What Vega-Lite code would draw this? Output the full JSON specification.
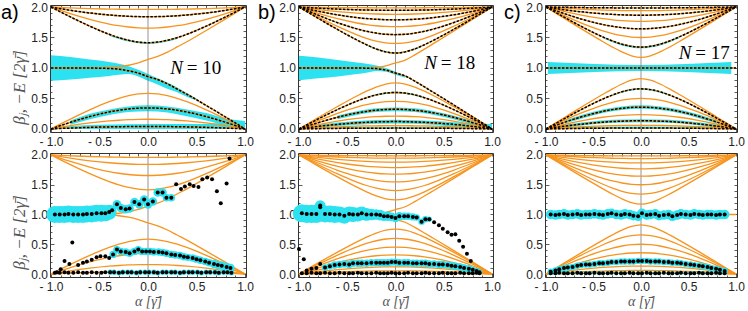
{
"$schema":"https://vega.github.io/schema/vega-lite/v6.json",
"padding":0,
"spacing":0,
"config":{"font":"Liberation Sans","view":{"stroke":"#333","strokeWidth":1},"axis":{"domain":false,"grid":false,"tickColor":"#333","tickWidth":0.8,"labelFont":"Liberation Sans","labelFontSize":12,"labelColor":"#222"}},
"datasets":{
"la":[
{"x":-1,"u1":2,"u2":2,"u3":2,"u4":2,"eu":1,"ed":1,"d4":0,"d3":0,"d2":0,"d1":0},
{"x":-0.9,"u1":1.992,"u2":1.972,"u3":1.944,"u4":1.918,"eu":1,"ed":1,"d4":0.082,"d3":0.056,"d2":0.028,"d1":0.008},
{"x":-0.8,"u1":1.986,"u2":1.946,"u3":1.891,"u4":1.838,"eu":1,"ed":1,"d4":0.162,"d3":0.109,"d2":0.054,"d1":0.014},
{"x":-0.6,"u1":1.974,"u2":1.902,"u3":1.797,"u4":1.686,"eu":1.001,"ed":0.999,"d4":0.314,"d3":0.203,"d2":0.098,"d1":0.026},
{"x":-0.4,"u1":1.966,"u2":1.869,"u3":1.721,"u4":1.552,"eu":1.008,"ed":0.992,"d4":0.448,"d3":0.279,"d2":0.131,"d1":0.034},
{"x":-0.3,"u1":1.963,"u2":1.857,"u3":1.693,"u4":1.497,"eu":1.021,"ed":0.979,"d4":0.503,"d3":0.307,"d2":0.143,"d1":0.037},
{"x":-0.2,"u1":1.961,"u2":1.848,"u3":1.672,"u4":1.454,"eu":1.045,"ed":0.955,"d4":0.546,"d3":0.328,"d2":0.152,"d1":0.039},
{"x":-0.1,"u1":1.96,"u2":1.843,"u3":1.659,"u4":1.425,"eu":1.085,"ed":0.915,"d4":0.575,"d3":0.341,"d2":0.157,"d1":0.04},
{"x":0,"u1":1.96,"u2":1.841,"u3":1.655,"u4":1.415,"eu":1.142,"ed":0.858,"d4":0.585,"d3":0.345,"d2":0.159,"d1":0.041},
{"x":0.1,"u1":1.96,"u2":1.843,"u3":1.659,"u4":1.425,"eu":1.19,"ed":0.81,"d4":0.575,"d3":0.341,"d2":0.157,"d1":0.04},
{"x":0.2,"u1":1.961,"u2":1.848,"u3":1.672,"u4":1.454,"eu":1.26,"ed":0.74,"d4":0.546,"d3":0.328,"d2":0.152,"d1":0.039},
{"x":0.3,"u1":1.963,"u2":1.857,"u3":1.693,"u4":1.497,"eu":1.345,"ed":0.655,"d4":0.503,"d3":0.307,"d2":0.143,"d1":0.037},
{"x":0.4,"u1":1.966,"u2":1.869,"u3":1.721,"u4":1.552,"eu":1.43,"ed":0.57,"d4":0.448,"d3":0.279,"d2":0.131,"d1":0.034},
{"x":0.6,"u1":1.974,"u2":1.902,"u3":1.797,"u4":1.686,"eu":1.615,"ed":0.385,"d4":0.314,"d3":0.203,"d2":0.098,"d1":0.026},
{"x":0.8,"u1":1.986,"u2":1.946,"u3":1.891,"u4":1.838,"eu":1.805,"ed":0.195,"d4":0.162,"d3":0.109,"d2":0.054,"d1":0.014},
{"x":0.9,"u1":1.992,"u2":1.972,"u3":1.944,"u4":1.918,"eu":1.902,"ed":0.098,"d4":0.082,"d3":0.056,"d2":0.028,"d1":0.008},
{"x":1,"u1":2,"u2":2,"u3":2,"u4":2,"eu":2,"ed":0,"d4":0,"d3":0,"d2":0,"d1":0}
],
"lb":[
{"x":-1,"u1":2,"u2":2,"u3":2,"u4":2,"u5":2,"u6":2,"u7":2,"u8":2,"eu":1,"ed":1,"d8":0,"d7":0,"d6":0,"d5":0,"d4":0,"d3":0,"d2":0,"d1":0},
{"x":-0.9,"u1":1.997,"u2":1.99,"u3":1.978,"u4":1.963,"u5":1.947,"u6":1.931,"u7":1.917,"u8":1.906,"eu":1,"ed":1,"d8":0.094,"d7":0.083,"d6":0.069,"d5":0.053,"d4":0.037,"d3":0.022,"d2":0.01,"d1":0.003},
{"x":-0.8,"u1":1.995,"u2":1.981,"u3":1.958,"u4":1.93,"u5":1.897,"u6":1.865,"u7":1.836,"u8":1.813,"eu":1,"ed":1,"d8":0.187,"d7":0.164,"d6":0.135,"d5":0.103,"d4":0.07,"d3":0.042,"d2":0.019,"d1":0.005},
{"x":-0.6,"u1":1.991,"u2":1.966,"u3":1.925,"u4":1.871,"u5":1.808,"u6":1.743,"u7":1.681,"u8":1.631,"eu":1,"ed":1,"d8":0.369,"d7":0.319,"d6":0.257,"d5":0.192,"d4":0.129,"d3":0.075,"d2":0.034,"d1":0.009},
{"x":-0.4,"u1":1.989,"u2":1.955,"u3":1.9,"u4":1.827,"u5":1.738,"u6":1.641,"u7":1.544,"u8":1.459,"eu":1.001,"ed":0.999,"d8":0.541,"d7":0.456,"d6":0.359,"d5":0.262,"d4":0.173,"d3":0.1,"d2":0.045,"d1":0.011},
{"x":-0.3,"u1":1.988,"u2":1.951,"u3":1.891,"u4":1.81,"u5":1.712,"u6":1.602,"u7":1.487,"u8":1.381,"eu":1.003,"ed":0.997,"d8":0.619,"d7":0.513,"d6":0.398,"d5":0.288,"d4":0.19,"d3":0.109,"d2":0.049,"d1":0.012},
{"x":-0.2,"u1":1.987,"u2":1.948,"u3":1.885,"u4":1.799,"u5":1.693,"u6":1.572,"u7":1.441,"u8":1.313,"eu":1.01,"ed":0.99,"d8":0.687,"d7":0.559,"d6":0.428,"d5":0.307,"d4":0.201,"d3":0.115,"d2":0.052,"d1":0.013},
{"x":-0.1,"u1":1.987,"u2":1.946,"u3":1.881,"u4":1.792,"u5":1.681,"u6":1.553,"u7":1.412,"u8":1.264,"eu":1.035,"ed":0.965,"d8":0.736,"d7":0.588,"d6":0.447,"d5":0.319,"d4":0.208,"d3":0.119,"d2":0.054,"d1":0.013},
{"x":0,"u1":1.986,"u2":1.946,"u3":1.879,"u4":1.789,"u5":1.677,"u6":1.547,"u7":1.402,"u8":1.245,"eu":1.083,"ed":0.917,"d8":0.755,"d7":0.598,"d6":0.453,"d5":0.323,"d4":0.211,"d3":0.121,"d2":0.054,"d1":0.014},
{"x":0.1,"u1":1.987,"u2":1.946,"u3":1.881,"u4":1.792,"u5":1.681,"u6":1.553,"u7":1.412,"u8":1.264,"eu":1.13,"ed":0.87,"d8":0.736,"d7":0.588,"d6":0.447,"d5":0.319,"d4":0.208,"d3":0.119,"d2":0.054,"d1":0.013},
{"x":0.2,"u1":1.987,"u2":1.948,"u3":1.885,"u4":1.799,"u5":1.693,"u6":1.572,"u7":1.441,"u8":1.313,"eu":1.216,"ed":0.784,"d8":0.687,"d7":0.559,"d6":0.428,"d5":0.307,"d4":0.201,"d3":0.115,"d2":0.052,"d1":0.013},
{"x":0.3,"u1":1.988,"u2":1.951,"u3":1.891,"u4":1.81,"u5":1.712,"u6":1.602,"u7":1.487,"u8":1.381,"eu":1.31,"ed":0.69,"d8":0.619,"d7":0.513,"d6":0.398,"d5":0.288,"d4":0.19,"d3":0.109,"d2":0.049,"d1":0.012},
{"x":0.4,"u1":1.989,"u2":1.955,"u3":1.9,"u4":1.827,"u5":1.738,"u6":1.641,"u7":1.544,"u8":1.459,"eu":1.407,"ed":0.593,"d8":0.541,"d7":0.456,"d6":0.359,"d5":0.262,"d4":0.173,"d3":0.1,"d2":0.045,"d1":0.011},
{"x":0.6,"u1":1.991,"u2":1.966,"u3":1.925,"u4":1.871,"u5":1.808,"u6":1.743,"u7":1.681,"u8":1.631,"eu":1.602,"ed":0.398,"d8":0.369,"d7":0.319,"d6":0.257,"d5":0.192,"d4":0.129,"d3":0.075,"d2":0.034,"d1":0.009},
{"x":0.8,"u1":1.995,"u2":1.981,"u3":1.958,"u4":1.93,"u5":1.897,"u6":1.865,"u7":1.836,"u8":1.813,"eu":1.801,"ed":0.199,"d8":0.187,"d7":0.164,"d6":0.135,"d5":0.103,"d4":0.07,"d3":0.042,"d2":0.019,"d1":0.005},
{"x":0.9,"u1":1.997,"u2":1.99,"u3":1.978,"u4":1.963,"u5":1.947,"u6":1.931,"u7":1.917,"u8":1.906,"eu":1.9,"ed":0.1,"d8":0.094,"d7":0.083,"d6":0.069,"d5":0.053,"d4":0.037,"d3":0.022,"d2":0.01,"d1":0.003},
{"x":1,"u1":2,"u2":2,"u3":2,"u4":2,"u5":2,"u6":2,"u7":2,"u8":2,"eu":2,"ed":0,"d8":0,"d7":0,"d6":0,"d5":0,"d4":0,"d3":0,"d2":0,"d1":0}
],
"lc":[
{"x":-1,"u1":2,"u2":2,"u3":2,"u4":2,"u5":2,"u6":2,"u7":2,"u8":2,"m":1,"d8":0,"d7":0,"d6":0,"d5":0,"d4":0,"d3":0,"d2":0,"d1":0},
{"x":-0.9,"u1":1.997,"u2":1.989,"u3":1.976,"u4":1.96,"u5":1.943,"u6":1.926,"u7":1.912,"u8":1.903,"m":1,"d8":0.097,"d7":0.088,"d6":0.074,"d5":0.057,"d4":0.04,"d3":0.024,"d2":0.011,"d1":0.003},
{"x":-0.8,"u1":1.995,"u2":1.979,"u3":1.954,"u4":1.923,"u5":1.888,"u6":1.854,"u7":1.826,"u8":1.807,"m":1,"d8":0.193,"d7":0.174,"d6":0.146,"d5":0.112,"d4":0.077,"d3":0.046,"d2":0.021,"d1":0.005},
{"x":-0.6,"u1":1.99,"u2":1.962,"u3":1.917,"u4":1.858,"u5":1.79,"u6":1.721,"u7":1.659,"u8":1.616,"m":1,"d8":0.384,"d7":0.341,"d6":0.279,"d5":0.21,"d4":0.142,"d3":0.083,"d2":0.038,"d1":0.01},
{"x":-0.4,"u1":1.987,"u2":1.95,"u3":1.889,"u4":1.808,"u5":1.712,"u6":1.608,"u7":1.508,"u8":1.431,"m":1,"d8":0.569,"d7":0.492,"d6":0.392,"d5":0.288,"d4":0.192,"d3":0.111,"d2":0.05,"d1":0.013},
{"x":-0.3,"u1":1.986,"u2":1.945,"u3":1.879,"u4":1.79,"u5":1.683,"u6":1.563,"u7":1.443,"u8":1.343,"m":1,"d8":0.657,"d7":0.557,"d6":0.437,"d5":0.317,"d4":0.21,"d3":0.121,"d2":0.055,"d1":0.014},
{"x":-0.2,"u1":1.985,"u2":1.942,"u3":1.872,"u4":1.777,"u5":1.661,"u6":1.529,"u7":1.39,"u8":1.263,"m":1,"d8":0.737,"d7":0.61,"d6":0.471,"d5":0.339,"d4":0.223,"d3":0.128,"d2":0.058,"d1":0.015},
{"x":-0.1,"u1":1.985,"u2":1.94,"u3":1.867,"u4":1.769,"u5":1.647,"u6":1.507,"u7":1.355,"u8":1.2,"m":1,"d8":0.8,"d7":0.645,"d6":0.493,"d5":0.353,"d4":0.231,"d3":0.133,"d2":0.06,"d1":0.015},
{"x":0,"u1":1.985,"u2":1.94,"u3":1.866,"u4":1.766,"u5":1.643,"u6":1.5,"u7":1.342,"u8":1.174,"m":1,"d8":0.826,"d7":0.658,"d6":0.5,"d5":0.357,"d4":0.234,"d3":0.134,"d2":0.06,"d1":0.015},
{"x":0.1,"u1":1.985,"u2":1.94,"u3":1.867,"u4":1.769,"u5":1.647,"u6":1.507,"u7":1.355,"u8":1.2,"m":1,"d8":0.8,"d7":0.645,"d6":0.493,"d5":0.353,"d4":0.231,"d3":0.133,"d2":0.06,"d1":0.015},
{"x":0.2,"u1":1.985,"u2":1.942,"u3":1.872,"u4":1.777,"u5":1.661,"u6":1.529,"u7":1.39,"u8":1.263,"m":1,"d8":0.737,"d7":0.61,"d6":0.471,"d5":0.339,"d4":0.223,"d3":0.128,"d2":0.058,"d1":0.015},
{"x":0.3,"u1":1.986,"u2":1.945,"u3":1.879,"u4":1.79,"u5":1.683,"u6":1.563,"u7":1.443,"u8":1.343,"m":1,"d8":0.657,"d7":0.557,"d6":0.437,"d5":0.317,"d4":0.21,"d3":0.121,"d2":0.055,"d1":0.014},
{"x":0.4,"u1":1.987,"u2":1.95,"u3":1.889,"u4":1.808,"u5":1.712,"u6":1.608,"u7":1.508,"u8":1.431,"m":1,"d8":0.569,"d7":0.492,"d6":0.392,"d5":0.288,"d4":0.192,"d3":0.111,"d2":0.05,"d1":0.013},
{"x":0.6,"u1":1.99,"u2":1.962,"u3":1.917,"u4":1.858,"u5":1.79,"u6":1.721,"u7":1.659,"u8":1.616,"m":1,"d8":0.384,"d7":0.341,"d6":0.279,"d5":0.21,"d4":0.142,"d3":0.083,"d2":0.038,"d1":0.01},
{"x":0.8,"u1":1.995,"u2":1.979,"u3":1.954,"u4":1.923,"u5":1.888,"u6":1.854,"u7":1.826,"u8":1.807,"m":1,"d8":0.193,"d7":0.174,"d6":0.146,"d5":0.112,"d4":0.077,"d3":0.046,"d2":0.021,"d1":0.005},
{"x":0.9,"u1":1.997,"u2":1.989,"u3":1.976,"u4":1.96,"u5":1.943,"u6":1.926,"u7":1.912,"u8":1.903,"m":1,"d8":0.097,"d7":0.088,"d6":0.074,"d5":0.057,"d4":0.04,"d3":0.024,"d2":0.011,"d1":0.003},
{"x":1,"u1":2,"u2":2,"u3":2,"u4":2,"u5":2,"u6":2,"u7":2,"u8":2,"m":1,"d8":0,"d7":0,"d6":0,"d5":0,"d4":0,"d3":0,"d2":0,"d1":0}
],
"bandA":[
{"b":"e","x":-1,"lo":0.79,"hi":1.21},{"b":"e","x":-0.8,"lo":0.81,"hi":1.18},{"b":"e","x":-0.6,"lo":0.84,"hi":1.14},{"b":"e","x":-0.4,"lo":0.87,"hi":1.1},{"b":"e","x":-0.3,"lo":0.89,"hi":1.07},{"b":"e","x":-0.2,"lo":0.9,"hi":1.03},{"b":"e","x":-0.1,"lo":0.86,"hi":0.97},{"b":"e","x":0,"lo":0.79,"hi":0.9},{"b":"e","x":0.1,"lo":0.73,"hi":0.83},{"b":"e","x":0.2,"lo":0.66,"hi":0.76},{"b":"e","x":0.3,"lo":0.6,"hi":0.68},{"b":"e","x":0.4,"lo":0.53,"hi":0.59},{"b":"e","x":0.5,"lo":0.47,"hi":0.5},
{"b":"a4","x":-0.4,"lo":1.53,"hi":1.56},{"b":"a4","x":-0.3,"lo":1.477,"hi":1.507},{"b":"a4","x":-0.2,"lo":1.434,"hi":1.464},{"b":"a4","x":-0.1,"lo":1.405,"hi":1.435},{"b":"a4","x":0,"lo":1.395,"hi":1.425},{"b":"a4","x":0.1,"lo":1.405,"hi":1.435},{"b":"a4","x":0.2,"lo":1.434,"hi":1.464},{"b":"a4","x":0.3,"lo":1.477,"hi":1.507},
{"b":"a3","x":-0.8,"lo":0.07,"hi":0.14},{"b":"a3","x":-0.6,"lo":0.16,"hi":0.25},{"b":"a3","x":-0.4,"lo":0.23,"hi":0.32},{"b":"a3","x":-0.2,"lo":0.28,"hi":0.37},{"b":"a3","x":0,"lo":0.29,"hi":0.39},{"b":"a3","x":0.2,"lo":0.27,"hi":0.37},{"b":"a3","x":0.4,"lo":0.21,"hi":0.32},{"b":"a3","x":0.6,"lo":0.14,"hi":0.26},{"b":"a3","x":0.8,"lo":0.06,"hi":0.17},{"b":"a3","x":1,"lo":0,"hi":0.13},
{"b":"a1","x":-1,"lo":0,"hi":0.02},{"b":"a1","x":-0.8,"lo":0,"hi":0.05},{"b":"a1","x":-0.5,"lo":0,"hi":0.07},{"b":"a1","x":0,"lo":0,"hi":0.08},{"b":"a1","x":0.5,"lo":0,"hi":0.08},{"b":"a1","x":0.8,"lo":0,"hi":0.1},{"b":"a1","x":1,"lo":0,"hi":0.13}
],
"bandB":[
{"b":"e","x":-1,"lo":0.8,"hi":1.2},{"b":"e","x":-0.8,"lo":0.83,"hi":1.17},{"b":"e","x":-0.6,"lo":0.86,"hi":1.13},{"b":"e","x":-0.4,"lo":0.9,"hi":1.09},{"b":"e","x":-0.3,"lo":0.92,"hi":1.07},{"b":"e","x":-0.2,"lo":0.95,"hi":1.04},{"b":"e","x":-0.1,"lo":0.94,"hi":1.0},{"b":"e","x":0,"lo":0.89,"hi":0.94},{"b":"e","x":0.1,"lo":0.84,"hi":0.88},
{"b":"b8","x":-0.3,"lo":1.37,"hi":1.39},{"b":"b8","x":-0.2,"lo":1.3,"hi":1.32},{"b":"b8","x":-0.1,"lo":1.255,"hi":1.275},{"b":"b8","x":0,"lo":1.235,"hi":1.255},{"b":"b8","x":0.1,"lo":1.255,"hi":1.275},{"b":"b8","x":0.2,"lo":1.3,"hi":1.32},{"b":"b8","x":0.3,"lo":1.37,"hi":1.39},
{"b":"b7","x":-0.3,"lo":0.5,"hi":0.525},{"b":"b7","x":-0.2,"lo":0.545,"hi":0.57},{"b":"b7","x":-0.1,"lo":0.575,"hi":0.6},{"b":"b7","x":0,"lo":0.585,"hi":0.61},{"b":"b7","x":0.1,"lo":0.575,"hi":0.6},{"b":"b7","x":0.2,"lo":0.545,"hi":0.57},{"b":"b7","x":0.3,"lo":0.5,"hi":0.525},
{"b":"b5","x":-0.6,"lo":0.16,"hi":0.22},{"b":"b5","x":-0.4,"lo":0.23,"hi":0.29},{"b":"b5","x":-0.2,"lo":0.28,"hi":0.34},{"b":"b5","x":0,"lo":0.29,"hi":0.35},{"b":"b5","x":0.2,"lo":0.28,"hi":0.34},{"b":"b5","x":0.4,"lo":0.23,"hi":0.29},{"b":"b5","x":0.6,"lo":0.16,"hi":0.22},{"b":"b5","x":0.8,"lo":0.07,"hi":0.13},{"b":"b5","x":0.9,"lo":0.03,"hi":0.09},
{"b":"b3","x":-0.8,"lo":0.02,"hi":0.07},{"b":"b3","x":-0.4,"lo":0.07,"hi":0.13},{"b":"b3","x":0,"lo":0.09,"hi":0.15},{"b":"b3","x":0.4,"lo":0.07,"hi":0.13},{"b":"b3","x":0.8,"lo":0,"hi":0.09},{"b":"b3","x":1,"lo":0,"hi":0.08},
{"b":"b1","x":-1,"lo":0,"hi":0.02},{"b":"b1","x":-0.5,"lo":0,"hi":0.03},{"b":"b1","x":0,"lo":0,"hi":0.035},{"b":"b1","x":0.5,"lo":0,"hi":0.035},{"b":"b1","x":1,"lo":0,"hi":0.04}
],
"bandC":[
{"b":"m","x":-0.98,"lo":0.9,"hi":1.1},{"b":"m","x":0,"lo":0.95,"hi":1.05},{"b":"m","x":0.95,"lo":0.9,"hi":1.1},
{"b":"c7u","x":-0.4,"lo":1.488,"hi":1.518},{"b":"c7u","x":-0.2,"lo":1.37,"hi":1.4},{"b":"c7u","x":0,"lo":1.322,"hi":1.352},{"b":"c7u","x":0.2,"lo":1.37,"hi":1.4},{"b":"c7u","x":0.4,"lo":1.488,"hi":1.518},
{"b":"c7d","x":-0.3,"lo":0.54,"hi":0.565},{"b":"c7d","x":-0.2,"lo":0.595,"hi":0.62},{"b":"c7d","x":0,"lo":0.645,"hi":0.67},{"b":"c7d","x":0.2,"lo":0.595,"hi":0.62},{"b":"c7d","x":0.3,"lo":0.54,"hi":0.565},
{"b":"c5","x":-0.8,"lo":0.09,"hi":0.14},{"b":"c5","x":-0.6,"lo":0.18,"hi":0.24},{"b":"c5","x":-0.4,"lo":0.26,"hi":0.32},{"b":"c5","x":-0.2,"lo":0.31,"hi":0.37},{"b":"c5","x":0,"lo":0.33,"hi":0.39},{"b":"c5","x":0.2,"lo":0.31,"hi":0.37},{"b":"c5","x":0.4,"lo":0.26,"hi":0.32},{"b":"c5","x":0.6,"lo":0.18,"hi":0.24},{"b":"c5","x":0.8,"lo":0.09,"hi":0.14},
{"b":"c3","x":-0.9,"lo":0,"hi":0.05},{"b":"c3","x":-0.6,"lo":0.06,"hi":0.11},{"b":"c3","x":-0.3,"lo":0.1,"hi":0.15},{"b":"c3","x":0,"lo":0.11,"hi":0.16},{"b":"c3","x":0.3,"lo":0.1,"hi":0.15},{"b":"c3","x":0.6,"lo":0.06,"hi":0.11},{"b":"c3","x":0.9,"lo":0,"hi":0.05},
{"b":"c1","x":-1,"lo":0,"hi":0.03},{"b":"c1","x":0,"lo":0,"hi":0.04},{"b":"c1","x":1,"lo":0,"hi":0.03}
],
"pa":[
{"x":-0.96,"y":1.0,"e":0.16},{"x":-0.91,"y":1.0,"e":0.16},{"x":-0.86,"y":1.0,"e":0.16},{"x":-0.82,"y":1.01,"e":0.16},{"x":-0.77,"y":1.0,"e":0.16},{"x":-0.72,"y":1.0,"e":0.16},{"x":-0.67,"y":1.0,"e":0.16},{"x":-0.63,"y":1.01,"e":0.16},{"x":-0.58,"y":1.01,"e":0.16},{"x":-0.53,"y":1.02,"e":0.16},{"x":-0.48,"y":1.02,"e":0.16},{"x":-0.44,"y":1.02,"e":0.15},{"x":-0.4,"y":1.04,"e":0.14},
{"x":-0.37,"y":1.07,"e":0.08},{"x":-0.32,"y":1.17,"e":0.08},{"x":-0.28,"y":1.11,"e":0.08},{"x":-0.23,"y":1.09,"e":0.08},{"x":-0.19,"y":1.1,"e":0.08},{"x":-0.14,"y":1.21,"e":0.08},{"x":-0.09,"y":1.17,"e":0.08},{"x":-0.04,"y":1.25,"e":0.08},{"x":0,"y":1.17,"e":0.08},{"x":0.05,"y":1.22,"e":0.08},{"x":0.1,"y":1.37,"e":0.08},{"x":0.15,"y":1.37,"e":0.08},{"x":0.19,"y":1.28,"e":0.07},{"x":0.24,"y":1.28,"e":0.07},
{"x":0.29,"y":1.51,"e":0},{"x":0.34,"y":1.43,"e":0},{"x":0.38,"y":1.47,"e":0},{"x":0.43,"y":1.51,"e":0},{"x":0.47,"y":1.48,"e":0},{"x":0.52,"y":1.46,"e":0},{"x":0.56,"y":1.59,"e":0},{"x":0.61,"y":1.62,"e":0},{"x":0.66,"y":1.59,"e":0},{"x":0.71,"y":1.39,"e":0},{"x":0.75,"y":1.19,"e":0},{"x":0.81,"y":1.52,"e":0},{"x":0.84,"y":1.94,"e":0},
{"x":-0.94,"y":0.03,"e":0},{"x":-0.9,"y":0.08,"e":0},{"x":-0.86,"y":0.22,"e":0},{"x":-0.81,"y":0.17,"e":0},{"x":-0.78,"y":0.53,"e":0},{"x":-0.72,"y":0.15,"e":0},{"x":-0.67,"y":0.19,"e":0},{"x":-0.63,"y":0.21,"e":0},{"x":-0.58,"y":0.24,"e":0},{"x":-0.53,"y":0.28,"e":0},{"x":-0.49,"y":0.3,"e":0},{"x":-0.44,"y":0.3,"e":0},{"x":-0.4,"y":0.27,"e":0},
{"x":-0.36,"y":0.33,"e":0.07},{"x":-0.32,"y":0.41,"e":0.07},{"x":-0.28,"y":0.38,"e":0.07},{"x":-0.23,"y":0.37,"e":0.07},{"x":-0.19,"y":0.35,"e":0.07},{"x":-0.14,"y":0.38,"e":0.07},{"x":-0.1,"y":0.41,"e":0.07},{"x":-0.06,"y":0.38,"e":0.07},{"x":-0.02,"y":0.38,"e":0.07},{"x":0.02,"y":0.38,"e":0.07},{"x":0.06,"y":0.37,"e":0.07},{"x":0.11,"y":0.37,"e":0.07},{"x":0.15,"y":0.36,"e":0.07},{"x":0.19,"y":0.35,"e":0.07},{"x":0.24,"y":0.33,"e":0.07},{"x":0.28,"y":0.32,"e":0.07},{"x":0.33,"y":0.31,"e":0.07},{"x":0.37,"y":0.29,"e":0.07},{"x":0.41,"y":0.28,"e":0.07},{"x":0.46,"y":0.27,"e":0.07},{"x":0.5,"y":0.25,"e":0.07},{"x":0.54,"y":0.23,"e":0.07},{"x":0.59,"y":0.21,"e":0.07},{"x":0.63,"y":0.19,"e":0.07},{"x":0.68,"y":0.17,"e":0.08},{"x":0.72,"y":0.15,"e":0.08},{"x":0.76,"y":0.14,"e":0.08},{"x":0.81,"y":0.12,"e":0.08},{"x":0.85,"y":0.1,"e":0.08},
{"x":-0.96,"y":0.02,"e":0},{"x":-0.91,"y":0.02,"e":0},{"x":-0.86,"y":0.03,"e":0},{"x":-0.82,"y":0.02,"e":0},{"x":-0.77,"y":0.02,"e":0},{"x":-0.72,"y":0.03,"e":0},{"x":-0.67,"y":0.02,"e":0},{"x":-0.63,"y":0.02,"e":0},{"x":-0.58,"y":0.03,"e":0},{"x":-0.53,"y":0.02,"e":0},{"x":-0.48,"y":0.02,"e":0},{"x":-0.44,"y":0.03,"e":0},
{"x":-0.39,"y":0.03,"e":0.05},{"x":-0.35,"y":0.03,"e":0.05},{"x":-0.3,"y":0.02,"e":0.05},{"x":-0.26,"y":0.03,"e":0.05},{"x":-0.21,"y":0.03,"e":0.05},{"x":-0.17,"y":0.03,"e":0.05},{"x":-0.12,"y":0.02,"e":0.05},{"x":-0.08,"y":0.03,"e":0.05},{"x":-0.03,"y":0.03,"e":0.05},{"x":0.01,"y":0.03,"e":0.05},{"x":0.06,"y":0.03,"e":0.05},{"x":0.1,"y":0.02,"e":0.05},{"x":0.15,"y":0.03,"e":0.05},{"x":0.19,"y":0.03,"e":0.05},{"x":0.24,"y":0.03,"e":0.05},{"x":0.28,"y":0.03,"e":0.05},{"x":0.33,"y":0.02,"e":0.05},{"x":0.37,"y":0.03,"e":0.05},{"x":0.42,"y":0.03,"e":0.05},{"x":0.46,"y":0.03,"e":0.05},{"x":0.51,"y":0.03,"e":0.05},{"x":0.55,"y":0.02,"e":0.05},{"x":0.6,"y":0.03,"e":0.05},{"x":0.64,"y":0.03,"e":0.05},{"x":0.69,"y":0.03,"e":0.05},{"x":0.73,"y":0.02,"e":0.05},{"x":0.78,"y":0.03,"e":0.05},{"x":0.82,"y":0.03,"e":0.05},{"x":0.86,"y":0.02,"e":0.05}
],
"pb":[
{"x":-0.97,"y":1.02,"e":0.17},{"x":-0.92,"y":1.01,"e":0.17},{"x":-0.87,"y":1.01,"e":0.17},{"x":-0.82,"y":1.01,"e":0.17},{"x":-0.78,"y":1.15,"e":0.1},{"x":-0.78,"y":1.12,"e":0.1},{"x":-0.73,"y":1.01,"e":0.16},{"x":-0.68,"y":1.01,"e":0.16},{"x":-0.63,"y":1.0,"e":0.16},{"x":-0.58,"y":1.0,"e":0.15},{"x":-0.53,"y":0.98,"e":0.15},{"x":-0.48,"y":1.01,"e":0.14},{"x":-0.44,"y":1.0,"e":0.14},{"x":-0.39,"y":1.0,"e":0.13},{"x":-0.35,"y":1.02,"e":0.13},{"x":-0.3,"y":1.0,"e":0.12},{"x":-0.25,"y":1.0,"e":0.11},{"x":-0.2,"y":1.0,"e":0.1},{"x":-0.16,"y":0.99,"e":0.1},{"x":-0.12,"y":0.97,"e":0.09},{"x":-0.08,"y":0.97,"e":0.09},{"x":-0.04,"y":0.96,"e":0.08},{"x":0,"y":0.94,"e":0.08},{"x":0.04,"y":0.97,"e":0.08},{"x":0.09,"y":0.97,"e":0.07},{"x":0.13,"y":0.97,"e":0.07},{"x":0.18,"y":0.96,"e":0.07},{"x":0.22,"y":0.95,"e":0.06},{"x":0.27,"y":0.88,"e":0.06},{"x":0.31,"y":0.92,"e":0.06},{"x":0.35,"y":0.92,"e":0.05},
{"x":0.4,"y":0.87,"e":0},{"x":0.45,"y":0.82,"e":0},{"x":0.49,"y":0.76,"e":0},{"x":0.54,"y":0.7,"e":0},{"x":0.58,"y":0.66,"e":0},{"x":0.62,"y":0.67,"e":0},{"x":0.66,"y":0.56,"e":0},{"x":0.7,"y":0.46,"e":0},{"x":0.74,"y":0.34,"e":0},{"x":0.78,"y":0.22,"e":0},
{"x":-1.0,"y":0.42,"e":0},{"x":-0.95,"y":0.25,"e":0},{"x":-0.78,"y":0.17,"e":0},
{"x":-0.92,"y":0.06,"e":0},{"x":-0.87,"y":0.09,"e":0},{"x":-0.82,"y":0.1,"e":0},{"x":-0.73,"y":0.11,"e":0.06},{"x":-0.68,"y":0.13,"e":0.06},{"x":-0.63,"y":0.15,"e":0.07},{"x":-0.58,"y":0.16,"e":0.07},{"x":-0.53,"y":0.17,"e":0.07},{"x":-0.48,"y":0.16,"e":0.07},{"x":-0.44,"y":0.18,"e":0.07},{"x":-0.39,"y":0.18,"e":0.07},{"x":-0.35,"y":0.18,"e":0.07},{"x":-0.3,"y":0.18,"e":0.07},{"x":-0.25,"y":0.19,"e":0.07},{"x":-0.2,"y":0.19,"e":0.07},{"x":-0.16,"y":0.19,"e":0.07},{"x":-0.12,"y":0.19,"e":0.07},{"x":-0.08,"y":0.19,"e":0.07},{"x":-0.04,"y":0.2,"e":0.07},{"x":0,"y":0.2,"e":0.07},{"x":0.04,"y":0.19,"e":0.07},{"x":0.09,"y":0.19,"e":0.07},{"x":0.13,"y":0.19,"e":0.07},{"x":0.18,"y":0.18,"e":0.07},{"x":0.22,"y":0.18,"e":0.07},{"x":0.27,"y":0.18,"e":0.07},{"x":0.31,"y":0.18,"e":0.07},{"x":0.35,"y":0.17,"e":0.07},{"x":0.4,"y":0.17,"e":0.07},{"x":0.45,"y":0.16,"e":0.07},{"x":0.49,"y":0.16,"e":0.07},{"x":0.54,"y":0.15,"e":0.07},{"x":0.58,"y":0.14,"e":0.07},{"x":0.62,"y":0.13,"e":0.07},{"x":0.67,"y":0.12,"e":0.07},{"x":0.71,"y":0.1,"e":0.07},{"x":0.76,"y":0.09,"e":0.07},{"x":0.8,"y":0.07,"e":0.06},{"x":0.84,"y":0.05,"e":0.06},{"x":0.87,"y":0.03,"e":0.05},
{"x":-0.97,"y":0.015,"e":0},{"x":-0.92,"y":0.015,"e":0},{"x":-0.87,"y":0.02,"e":0},{"x":-0.82,"y":0.015,"e":0},{"x":-0.78,"y":0.015,"e":0},{"x":-0.73,"y":0.02,"e":0},{"x":-0.68,"y":0.015,"e":0.03},{"x":-0.63,"y":0.015,"e":0.03},{"x":-0.58,"y":0.02,"e":0.03},{"x":-0.53,"y":0.015,"e":0.03},{"x":-0.48,"y":0.015,"e":0.03},{"x":-0.44,"y":0.015,"e":0.03},{"x":-0.39,"y":0.02,"e":0.03},{"x":-0.35,"y":0.015,"e":0.03},{"x":-0.3,"y":0.015,"e":0.03},{"x":-0.25,"y":0.015,"e":0.03},{"x":-0.2,"y":0.02,"e":0.03},{"x":-0.16,"y":0.015,"e":0.03},{"x":-0.12,"y":0.015,"e":0.03},{"x":-0.08,"y":0.015,"e":0.03},{"x":-0.04,"y":0.02,"e":0.03},{"x":0,"y":0.015,"e":0.03},{"x":0.04,"y":0.015,"e":0.03},{"x":0.09,"y":0.015,"e":0.03},{"x":0.13,"y":0.02,"e":0.03},{"x":0.18,"y":0.015,"e":0.03},{"x":0.22,"y":0.015,"e":0.03},{"x":0.27,"y":0.015,"e":0.03},{"x":0.31,"y":0.02,"e":0.03},{"x":0.35,"y":0.015,"e":0.03},{"x":0.4,"y":0.015,"e":0.03},{"x":0.45,"y":0.015,"e":0.03},{"x":0.49,"y":0.02,"e":0.03},{"x":0.54,"y":0.015,"e":0.03},{"x":0.58,"y":0.015,"e":0.03},{"x":0.62,"y":0.015,"e":0.03},{"x":0.67,"y":0.02,"e":0.03},{"x":0.71,"y":0.015,"e":0.03},{"x":0.76,"y":0.015,"e":0.03},{"x":0.8,"y":0.015,"e":0.03},{"x":0.84,"y":0.02,"e":0.03},{"x":0.87,"y":0.015,"e":0.03}
],
"pc":[
{"x":-0.95,"y":1.0,"e":0.09},{"x":-0.9,"y":0.99,"e":0.09},{"x":-0.86,"y":1.0,"e":0.09},{"x":-0.81,"y":1.01,"e":0.09},{"x":-0.77,"y":0.99,"e":0.09},{"x":-0.72,"y":1.0,"e":0.09},{"x":-0.67,"y":1.01,"e":0.09},{"x":-0.63,"y":0.99,"e":0.09},{"x":-0.58,"y":1.0,"e":0.09},{"x":-0.54,"y":1.0,"e":0.09},{"x":-0.49,"y":1.01,"e":0.09},{"x":-0.44,"y":1.0,"e":0.09},{"x":-0.4,"y":0.99,"e":0.09},{"x":-0.35,"y":1.01,"e":0.09},{"x":-0.31,"y":1.02,"e":0.09},{"x":-0.26,"y":1.0,"e":0.09},{"x":-0.21,"y":0.99,"e":0.09},{"x":-0.17,"y":1.01,"e":0.09},{"x":-0.12,"y":1.0,"e":0.09},{"x":-0.08,"y":0.98,"e":0.09},{"x":-0.03,"y":0.97,"e":0.09},{"x":0.01,"y":1.02,"e":0.09},{"x":0.06,"y":0.99,"e":0.09},{"x":0.1,"y":1.0,"e":0.09},{"x":0.15,"y":1.01,"e":0.09},{"x":0.19,"y":0.98,"e":0.09},{"x":0.24,"y":0.99,"e":0.09},{"x":0.29,"y":1.0,"e":0.09},{"x":0.33,"y":0.97,"e":0.09},{"x":0.38,"y":0.99,"e":0.09},{"x":0.42,"y":1.01,"e":0.09},{"x":0.47,"y":1.0,"e":0.09},{"x":0.52,"y":0.99,"e":0.09},{"x":0.56,"y":1.01,"e":0.09},{"x":0.61,"y":1.0,"e":0.09},{"x":0.65,"y":0.99,"e":0.09},{"x":0.7,"y":1.0,"e":0.09},{"x":0.74,"y":1.0,"e":0.09},{"x":0.79,"y":0.99,"e":0.09},{"x":0.83,"y":1.0,"e":0.09},{"x":0.88,"y":1.0,"e":0.09},
{"x":-0.95,"y":0.04,"e":0.06},{"x":-0.9,"y":0.06,"e":0.06},{"x":-0.86,"y":0.08,"e":0.06},{"x":-0.81,"y":0.1,"e":0.06},{"x":-0.77,"y":0.11,"e":0.06},{"x":-0.72,"y":0.12,"e":0.06},{"x":-0.67,"y":0.14,"e":0.06},{"x":-0.63,"y":0.15,"e":0.06},{"x":-0.58,"y":0.16,"e":0.06},{"x":-0.54,"y":0.16,"e":0.06},{"x":-0.49,"y":0.17,"e":0.06},{"x":-0.44,"y":0.18,"e":0.06},{"x":-0.4,"y":0.18,"e":0.06},{"x":-0.35,"y":0.19,"e":0.06},{"x":-0.31,"y":0.2,"e":0.06},{"x":-0.26,"y":0.2,"e":0.06},{"x":-0.21,"y":0.21,"e":0.06},{"x":-0.17,"y":0.21,"e":0.06},{"x":-0.12,"y":0.21,"e":0.06},{"x":-0.08,"y":0.21,"e":0.06},{"x":-0.03,"y":0.22,"e":0.06},{"x":0.01,"y":0.22,"e":0.06},{"x":0.06,"y":0.22,"e":0.06},{"x":0.1,"y":0.21,"e":0.06},{"x":0.15,"y":0.21,"e":0.06},{"x":0.19,"y":0.21,"e":0.06},{"x":0.24,"y":0.2,"e":0.06},{"x":0.29,"y":0.2,"e":0.06},{"x":0.33,"y":0.19,"e":0.06},{"x":0.38,"y":0.19,"e":0.06},{"x":0.42,"y":0.18,"e":0.06},{"x":0.47,"y":0.17,"e":0.06},{"x":0.52,"y":0.16,"e":0.06},{"x":0.56,"y":0.15,"e":0.06},{"x":0.61,"y":0.14,"e":0.06},{"x":0.65,"y":0.13,"e":0.06},{"x":0.7,"y":0.12,"e":0.06},{"x":0.74,"y":0.1,"e":0.06},{"x":0.79,"y":0.09,"e":0.06},{"x":0.83,"y":0.07,"e":0.06},{"x":0.88,"y":0.05,"e":0.06},
{"x":-0.95,"y":0.015,"e":0.04},{"x":-0.9,"y":0.015,"e":0.04},{"x":-0.86,"y":0.02,"e":0.04},{"x":-0.81,"y":0.015,"e":0.04},{"x":-0.77,"y":0.015,"e":0.04},{"x":-0.72,"y":0.015,"e":0.04},{"x":-0.67,"y":0.02,"e":0.04},{"x":-0.63,"y":0.015,"e":0.04},{"x":-0.58,"y":0.015,"e":0.04},{"x":-0.54,"y":0.015,"e":0.04},{"x":-0.49,"y":0.02,"e":0.04},{"x":-0.44,"y":0.015,"e":0.04},{"x":-0.4,"y":0.015,"e":0.04},{"x":-0.35,"y":0.015,"e":0.04},{"x":-0.31,"y":0.02,"e":0.04},{"x":-0.26,"y":0.015,"e":0.04},{"x":-0.21,"y":0.015,"e":0.04},{"x":-0.17,"y":0.015,"e":0.04},{"x":-0.12,"y":0.02,"e":0.04},{"x":-0.08,"y":0.015,"e":0.04},{"x":-0.03,"y":0.015,"e":0.04},{"x":0.01,"y":0.015,"e":0.04},{"x":0.06,"y":0.02,"e":0.04},{"x":0.1,"y":0.015,"e":0.04},{"x":0.15,"y":0.015,"e":0.04},{"x":0.19,"y":0.015,"e":0.04},{"x":0.24,"y":0.02,"e":0.04},{"x":0.29,"y":0.015,"e":0.04},{"x":0.33,"y":0.015,"e":0.04},{"x":0.38,"y":0.015,"e":0.04},{"x":0.42,"y":0.02,"e":0.04},{"x":0.47,"y":0.015,"e":0.04},{"x":0.52,"y":0.015,"e":0.04},{"x":0.56,"y":0.015,"e":0.04},{"x":0.61,"y":0.02,"e":0.04},{"x":0.65,"y":0.015,"e":0.04},{"x":0.7,"y":0.015,"e":0.04},{"x":0.74,"y":0.015,"e":0.04},{"x":0.79,"y":0.02,"e":0.04},{"x":0.83,"y":0.015,"e":0.04},{"x":0.88,"y":0.015,"e":0.04}
]
},
"vconcat":[
{"hconcat":[
{"width":196,"height":127,"resolve":{"axis":{"x":"independent","y":"independent"}},"layer":[
{"data":{"name":"bandA"},"mark":{"type":"area","color":"#2CE2F0","interpolate":"monotone"},"encoding":{
"x":{"field":"x","type":"quantitative","scale":{"domain":[-1.01,1.01],"nice":false,"zero":false},"axis":{"orient":"bottom","values":[-1,-0.5,0,0.5,1],"tickSize":-4,"labelPadding":8.5,"labelExpr":"datum.value < 0 ? '- ' + format(-datum.value, '.1f') : format(datum.value, '.1f')","labelFlush":false,"labelOverlap":false,"title":null}},
"y":{"field":"lo","type":"quantitative","scale":{"domain":[-0.05,2.033],"nice":false,"zero":false},"axis":{"orient":"left","values":[0,0.5,1,1.5,2],"tickSize":-4,"labelPadding":6.5,"labelExpr":"format(datum.value, '.1f')","labelFlush":false,"labelOverlap":false,"title":"βⱼ, −E [2γ̄]","titleFont":"Liberation Serif","titleFontStyle":"italic","titleFontSize":17,"titleFontWeight":"normal","titleColor":"#555","titleX":-22,"titleY":82,"titleBaseline":"bottom"}},
"y2":{"field":"hi"},"detail":{"field":"b"}}},
{"data":{"values":[{}]},"mark":{"type":"rule","color":"#666","strokeWidth":0.7},"encoding":{"x":{"datum":0,"scale":{"domain":[-1.01,1.01],"nice":false,"zero":false},"axis":{"orient":"bottom","values":[-0.9,-0.8,-0.7,-0.6,-0.4,-0.3,-0.2,-0.1,0.1,0.2,0.3,0.4,0.6,0.7,0.8,0.9],"tickSize":-2,"labels":false,"title":null}}}},
{"data":{"name":"la"},"transform":[{"fold":["u1","u2","u3","u4","eu","ed","d4","d3","d2","d1"],"as":["k","v"]}],"mark":{"type":"line","color":"#F7941D","strokeWidth":1.3,"interpolate":"monotone"},"encoding":{
"x":{"field":"x","type":"quantitative","scale":{"domain":[-1.01,1.01],"nice":false,"zero":false},"axis":{"orient":"top","values":[-1,-0.9,-0.8,-0.7,-0.6,-0.5,-0.4,-0.3,-0.2,-0.1,0,0.1,0.2,0.3,0.4,0.5,0.6,0.7,0.8,0.9,1],"tickSize":-3,"labels":false,"title":null}},
"y":{"field":"v","type":"quantitative","scale":{"domain":[-0.05,2.033],"nice":false,"zero":false},"axis":{"orient":"right","values":[0,0.1,0.2,0.3,0.4,0.5,0.6,0.7,0.8,0.9,1,1.1,1.2,1.3,1.4,1.5,1.6,1.7,1.8,1.9,2],"tickSize":-3,"labels":false,"title":null}},
"detail":{"field":"k"}}},
{"data":{"name":"la"},"transform":[{"fold":["u1","u2","u3","u4","eu","ed","d4","d3","d2","d1"],"as":["k","v"]},{"filter":{"field":"k","oneOf":["u2","u4","ed","d3","d1"]}}],"mark":{"type":"line","color":"#000","strokeWidth":1.5,"strokeDash":[2.5,1.5],"interpolate":"monotone"},"encoding":{
"x":{"field":"x","type":"quantitative","scale":{"domain":[-1.01,1.01],"nice":false,"zero":false},"axis":null},
"y":{"field":"v","type":"quantitative","scale":{"domain":[-0.05,2.033],"nice":false,"zero":false},"axis":{"orient":"left","values":[0.1,0.2,0.3,0.4,0.6,0.7,0.8,0.9,1.1,1.2,1.3,1.4,1.6,1.7,1.8,1.9],"tickSize":-2,"labels":false,"title":null}},
"detail":{"field":"k"}}},
{"data":{"values":[{}]},"mark":{"type":"text","text":"N","font":"Liberation Serif","fontStyle":"italic","fontSize":19,"align":"right","baseline":"middle"},"encoding":{"x":{"datum":0.36,"axis":null},"y":{"datum":1.0,"axis":null}}},
{"data":{"values":[{}]},"mark":{"type":"text","text":"= 10","font":"Liberation Serif","fontSize":19,"align":"left","baseline":"middle"},"encoding":{"x":{"datum":0.4,"axis":null},"y":{"datum":1.0,"axis":null}}},
{"data":{"values":[{}]},"mark":{"type":"text","text":"a)","font":"Liberation Sans","fontSize":20,"align":"left","baseline":"top","dx":-49,"dy":-2},"encoding":{"x":{"datum":-1.01,"axis":null},"y":{"datum":2.033,"axis":null}}}
]},
{"width":195,"height":127,"resolve":{"axis":{"x":"independent","y":"independent"}},"layer":[
{"data":{"name":"bandB"},"mark":{"type":"area","color":"#2CE2F0","interpolate":"monotone"},"encoding":{
"x":{"field":"x","type":"quantitative","scale":{"domain":[-1.01,1.01],"nice":false,"zero":false},"axis":{"orient":"bottom","values":[-1,-0.5,0,0.5,1],"tickSize":-4,"labelPadding":8.5,"labelExpr":"datum.value < 0 ? '- ' + format(-datum.value, '.1f') : format(datum.value, '.1f')","labelFlush":false,"labelOverlap":false,"title":null}},
"y":{"field":"lo","type":"quantitative","scale":{"domain":[-0.05,2.033],"nice":false,"zero":false},"axis":{"orient":"left","values":[0,0.5,1,1.5,2],"tickSize":-4,"labelPadding":6.5,"labelExpr":"format(datum.value, '.1f')","labelFlush":false,"labelOverlap":false,"title":null}},
"y2":{"field":"hi"},"detail":{"field":"b"}}},
{"data":{"values":[{}]},"mark":{"type":"rule","color":"#666","strokeWidth":0.7},"encoding":{"x":{"datum":0,"scale":{"domain":[-1.01,1.01],"nice":false,"zero":false},"axis":{"orient":"bottom","values":[-0.9,-0.8,-0.7,-0.6,-0.4,-0.3,-0.2,-0.1,0.1,0.2,0.3,0.4,0.6,0.7,0.8,0.9],"tickSize":-2,"labels":false,"title":null}}}},
{"data":{"name":"lb"},"transform":[{"fold":["u1","u2","u3","u4","u5","u6","u7","u8","eu","ed","d8","d7","d6","d5","d4","d3","d2","d1"],"as":["k","v"]}],"mark":{"type":"line","color":"#F7941D","strokeWidth":1.3,"interpolate":"monotone"},"encoding":{
"x":{"field":"x","type":"quantitative","scale":{"domain":[-1.01,1.01],"nice":false,"zero":false},"axis":{"orient":"top","values":[-1,-0.9,-0.8,-0.7,-0.6,-0.5,-0.4,-0.3,-0.2,-0.1,0,0.1,0.2,0.3,0.4,0.5,0.6,0.7,0.8,0.9,1],"tickSize":-3,"labels":false,"title":null}},
"y":{"field":"v","type":"quantitative","scale":{"domain":[-0.05,2.033],"nice":false,"zero":false},"axis":{"orient":"right","values":[0,0.1,0.2,0.3,0.4,0.5,0.6,0.7,0.8,0.9,1,1.1,1.2,1.3,1.4,1.5,1.6,1.7,1.8,1.9,2],"tickSize":-3,"labels":false,"title":null}},
"detail":{"field":"k"}}},
{"data":{"name":"lb"},"transform":[{"fold":["u1","u2","u3","u4","u5","u6","u7","u8","eu","ed","d8","d7","d6","d5","d4","d3","d2","d1"],"as":["k","v"]},{"filter":{"field":"k","oneOf":["u2","u4","u6","u8","ed","d7","d5","d3","d1"]}}],"mark":{"type":"line","color":"#000","strokeWidth":1.5,"strokeDash":[2.5,1.5],"interpolate":"monotone"},"encoding":{
"x":{"field":"x","type":"quantitative","scale":{"domain":[-1.01,1.01],"nice":false,"zero":false},"axis":null},
"y":{"field":"v","type":"quantitative","scale":{"domain":[-0.05,2.033],"nice":false,"zero":false},"axis":{"orient":"left","values":[0.1,0.2,0.3,0.4,0.6,0.7,0.8,0.9,1.1,1.2,1.3,1.4,1.6,1.7,1.8,1.9],"tickSize":-2,"labels":false,"title":null}},
"detail":{"field":"k"}}},
{"data":{"values":[{}]},"mark":{"type":"text","text":"N","font":"Liberation Serif","fontStyle":"italic","fontSize":19,"align":"right","baseline":"middle"},"encoding":{"x":{"datum":0.43,"axis":null},"y":{"datum":1.08,"axis":null}}},
{"data":{"values":[{}]},"mark":{"type":"text","text":"= 18","font":"Liberation Serif","fontSize":19,"align":"left","baseline":"middle"},"encoding":{"x":{"datum":0.47,"axis":null},"y":{"datum":1.08,"axis":null}}},
{"data":{"values":[{}]},"mark":{"type":"text","text":"b)","font":"Liberation Sans","fontSize":20,"align":"left","baseline":"top","dx":-40,"dy":-2},"encoding":{"x":{"datum":-1.01,"axis":null},"y":{"datum":2.033,"axis":null}}}
]},
{"width":192,"height":127,"resolve":{"axis":{"x":"independent","y":"independent"}},"layer":[
{"data":{"name":"bandC"},"mark":{"type":"area","color":"#2CE2F0","interpolate":"monotone"},"encoding":{
"x":{"field":"x","type":"quantitative","scale":{"domain":[-1.01,1.01],"nice":false,"zero":false},"axis":{"orient":"bottom","values":[-1,-0.5,0,0.5,1],"tickSize":-4,"labelPadding":8.5,"labelExpr":"datum.value < 0 ? '- ' + format(-datum.value, '.1f') : format(datum.value, '.1f')","labelFlush":false,"labelOverlap":false,"title":null}},
"y":{"field":"lo","type":"quantitative","scale":{"domain":[-0.05,2.033],"nice":false,"zero":false},"axis":{"orient":"left","values":[0,0.5,1,1.5,2],"tickSize":-4,"labelPadding":6.5,"labelExpr":"format(datum.value, '.1f')","labelFlush":false,"labelOverlap":false,"title":null}},
"y2":{"field":"hi"},"detail":{"field":"b"}}},
{"data":{"values":[{}]},"mark":{"type":"rule","color":"#666","strokeWidth":0.7},"encoding":{"x":{"datum":0,"scale":{"domain":[-1.01,1.01],"nice":false,"zero":false},"axis":{"orient":"bottom","values":[-0.9,-0.8,-0.7,-0.6,-0.4,-0.3,-0.2,-0.1,0.1,0.2,0.3,0.4,0.6,0.7,0.8,0.9],"tickSize":-2,"labels":false,"title":null}}}},
{"data":{"name":"lc"},"transform":[{"fold":["u1","u2","u3","u4","u5","u6","u7","u8","m","d8","d7","d6","d5","d4","d3","d2","d1"],"as":["k","v"]}],"mark":{"type":"line","color":"#F7941D","strokeWidth":1.3,"interpolate":"monotone"},"encoding":{
"x":{"field":"x","type":"quantitative","scale":{"domain":[-1.01,1.01],"nice":false,"zero":false},"axis":{"orient":"top","values":[-1,-0.9,-0.8,-0.7,-0.6,-0.5,-0.4,-0.3,-0.2,-0.1,0,0.1,0.2,0.3,0.4,0.5,0.6,0.7,0.8,0.9,1],"tickSize":-3,"labels":false,"title":null}},
"y":{"field":"v","type":"quantitative","scale":{"domain":[-0.05,2.033],"nice":false,"zero":false},"axis":{"orient":"right","values":[0,0.1,0.2,0.3,0.4,0.5,0.6,0.7,0.8,0.9,1,1.1,1.2,1.3,1.4,1.5,1.6,1.7,1.8,1.9,2],"tickSize":-3,"labels":false,"title":null}},
"detail":{"field":"k"}}},
{"data":{"name":"lc"},"transform":[{"fold":["u1","u2","u3","u4","u5","u6","u7","u8","m","d8","d7","d6","d5","d4","d3","d2","d1"],"as":["k","v"]},{"filter":{"field":"k","oneOf":["u1","u3","u5","u7","m","d7","d5","d3","d1"]}}],"mark":{"type":"line","color":"#000","strokeWidth":1.5,"strokeDash":[2.5,1.5],"interpolate":"monotone"},"encoding":{
"x":{"field":"x","type":"quantitative","scale":{"domain":[-1.01,1.01],"nice":false,"zero":false},"axis":null},
"y":{"field":"v","type":"quantitative","scale":{"domain":[-0.05,2.033],"nice":false,"zero":false},"axis":{"orient":"left","values":[0.1,0.2,0.3,0.4,0.6,0.7,0.8,0.9,1.1,1.2,1.3,1.4,1.6,1.7,1.8,1.9],"tickSize":-2,"labels":false,"title":null}},
"detail":{"field":"k"}}},
{"data":{"values":[{}]},"mark":{"type":"text","text":"N","font":"Liberation Serif","fontStyle":"italic","fontSize":19,"align":"right","baseline":"middle"},"encoding":{"x":{"datum":0.53,"axis":null},"y":{"datum":1.24,"axis":null}}},
{"data":{"values":[{}]},"mark":{"type":"text","text":"= 17","font":"Liberation Serif","fontSize":19,"align":"left","baseline":"middle"},"encoding":{"x":{"datum":0.57,"axis":null},"y":{"datum":1.24,"axis":null}}},
{"data":{"values":[{}]},"mark":{"type":"text","text":"c)","font":"Liberation Sans","fontSize":20,"align":"left","baseline":"top","dx":-41,"dy":-2},"encoding":{"x":{"datum":-1.01,"axis":null},"y":{"datum":2.033,"axis":null}}}
]}
],"spacing":52,"bounds":"flush"},
{"hconcat":[
{"width":196,"height":124,"resolve":{"axis":{"x":"independent","y":"independent"}},"layer":[
{"data":{"values":[{}]},"mark":{"type":"rule","color":"#666","strokeWidth":0.7},"encoding":{"x":{"datum":0,"scale":{"domain":[-1.01,1.01],"nice":false,"zero":false},"axis":{"orient":"bottom","values":[-0.9,-0.8,-0.7,-0.6,-0.4,-0.3,-0.2,-0.1,0.1,0.2,0.3,0.4,0.6,0.7,0.8,0.9],"tickSize":-2,"labels":false,"title":null}}}},
{"data":{"name":"la"},"transform":[{"fold":["u1","u2","u3","u4","eu","ed","d4","d3","d2","d1"],"as":["k","v"]}],"mark":{"type":"line","color":"#F7941D","strokeWidth":1.3,"interpolate":"monotone"},"encoding":{
"x":{"field":"x","type":"quantitative","scale":{"domain":[-1.01,1.01],"nice":false,"zero":false},"axis":{"orient":"bottom","values":[-1,-0.5,0,0.5,1],"tickSize":-4,"labelPadding":8.5,"labelExpr":"datum.value < 0 ? '- ' + format(-datum.value, '.1f') : format(datum.value, '.1f')","labelFlush":false,"labelOverlap":false,"title":"α [γ̄]","titleFont":"Liberation Serif","titleFontStyle":"italic","titleFontSize":14,"titleFontWeight":"normal","titleColor":"#555","titleY":24,"titleBaseline":"middle"}},
"y":{"field":"v","type":"quantitative","scale":{"domain":[-0.05,2.033],"nice":false,"zero":false},"axis":{"orient":"left","values":[0,0.5,1,1.5,2],"tickSize":-4,"labelPadding":6.5,"labelExpr":"format(datum.value, '.1f')","labelFlush":false,"labelOverlap":false,"title":"βⱼ, −E [2γ̄]","titleFont":"Liberation Serif","titleFontStyle":"italic","titleFontSize":17,"titleFontWeight":"normal","titleColor":"#555","titleX":-22,"titleY":79,"titleBaseline":"bottom"}},
"detail":{"field":"k"}}},
{"data":{"name":"pa"},"transform":[{"filter":"datum.e > 0"}],"mark":{"type":"circle","color":"#2CE2F0","opacity":1},"encoding":{
"x":{"field":"x","type":"quantitative","scale":{"domain":[-1.01,1.01],"nice":false,"zero":false},"axis":{"orient":"top","values":[-1,-0.9,-0.8,-0.7,-0.6,-0.5,-0.4,-0.3,-0.2,-0.1,0,0.1,0.2,0.3,0.4,0.5,0.6,0.7,0.8,0.9,1],"tickSize":-3,"labels":false,"title":null}},
"y":{"field":"y","type":"quantitative","scale":{"domain":[-0.05,2.033],"nice":false,"zero":false},"axis":{"orient":"right","values":[0,0.1,0.2,0.3,0.4,0.5,0.6,0.7,0.8,0.9,1,1.1,1.2,1.3,1.4,1.5,1.6,1.7,1.8,1.9,2],"tickSize":-3,"labels":false,"title":null}},
"size":{"field":"e","type":"quantitative","scale":{"type":"pow","exponent":2,"domain":[0,0.2],"range":[0,452]},"legend":null}}},
{"data":{"name":"pa"},"mark":{"type":"circle","color":"#000","opacity":1,"size":16},"encoding":{
"x":{"field":"x","type":"quantitative","scale":{"domain":[-1.01,1.01],"nice":false,"zero":false},"axis":null},
"y":{"field":"y","type":"quantitative","scale":{"domain":[-0.05,2.033],"nice":false,"zero":false},"axis":{"orient":"left","values":[0.1,0.2,0.3,0.4,0.6,0.7,0.8,0.9,1.1,1.2,1.3,1.4,1.6,1.7,1.8,1.9],"tickSize":-2,"labels":false,"title":null}}}}
]},
{"width":195,"height":124,"resolve":{"axis":{"x":"independent","y":"independent"}},"layer":[
{"data":{"values":[{}]},"mark":{"type":"rule","color":"#666","strokeWidth":0.7},"encoding":{"x":{"datum":0,"scale":{"domain":[-1.01,1.01],"nice":false,"zero":false},"axis":{"orient":"bottom","values":[-0.9,-0.8,-0.7,-0.6,-0.4,-0.3,-0.2,-0.1,0.1,0.2,0.3,0.4,0.6,0.7,0.8,0.9],"tickSize":-2,"labels":false,"title":null}}}},
{"data":{"name":"lb"},"transform":[{"fold":["u1","u2","u3","u4","u5","u6","u7","u8","eu","ed","d8","d7","d6","d5","d4","d3","d2","d1"],"as":["k","v"]}],"mark":{"type":"line","color":"#F7941D","strokeWidth":1.3,"interpolate":"monotone"},"encoding":{
"x":{"field":"x","type":"quantitative","scale":{"domain":[-1.01,1.01],"nice":false,"zero":false},"axis":{"orient":"bottom","values":[-1,-0.5,0,0.5,1],"tickSize":-4,"labelPadding":8.5,"labelExpr":"datum.value < 0 ? '- ' + format(-datum.value, '.1f') : format(datum.value, '.1f')","labelFlush":false,"labelOverlap":false,"title":"α [γ̄]","titleFont":"Liberation Serif","titleFontStyle":"italic","titleFontSize":14,"titleFontWeight":"normal","titleColor":"#555","titleY":24,"titleBaseline":"middle"}},
"y":{"field":"v","type":"quantitative","scale":{"domain":[-0.05,2.033],"nice":false,"zero":false},"axis":{"orient":"left","values":[0,0.5,1,1.5,2],"tickSize":-4,"labelPadding":6.5,"labelExpr":"format(datum.value, '.1f')","labelFlush":false,"labelOverlap":false,"title":null}},
"detail":{"field":"k"}}},
{"data":{"name":"pb"},"transform":[{"filter":"datum.e > 0"}],"mark":{"type":"circle","color":"#2CE2F0","opacity":1},"encoding":{
"x":{"field":"x","type":"quantitative","scale":{"domain":[-1.01,1.01],"nice":false,"zero":false},"axis":{"orient":"top","values":[-1,-0.9,-0.8,-0.7,-0.6,-0.5,-0.4,-0.3,-0.2,-0.1,0,0.1,0.2,0.3,0.4,0.5,0.6,0.7,0.8,0.9,1],"tickSize":-3,"labels":false,"title":null}},
"y":{"field":"y","type":"quantitative","scale":{"domain":[-0.05,2.033],"nice":false,"zero":false},"axis":{"orient":"right","values":[0,0.1,0.2,0.3,0.4,0.5,0.6,0.7,0.8,0.9,1,1.1,1.2,1.3,1.4,1.5,1.6,1.7,1.8,1.9,2],"tickSize":-3,"labels":false,"title":null}},
"size":{"field":"e","type":"quantitative","scale":{"type":"pow","exponent":2,"domain":[0,0.2],"range":[0,452]},"legend":null}}},
{"data":{"name":"pb"},"mark":{"type":"circle","color":"#000","opacity":1,"size":16},"encoding":{
"x":{"field":"x","type":"quantitative","scale":{"domain":[-1.01,1.01],"nice":false,"zero":false},"axis":null},
"y":{"field":"y","type":"quantitative","scale":{"domain":[-0.05,2.033],"nice":false,"zero":false},"axis":{"orient":"left","values":[0.1,0.2,0.3,0.4,0.6,0.7,0.8,0.9,1.1,1.2,1.3,1.4,1.6,1.7,1.8,1.9],"tickSize":-2,"labels":false,"title":null}}}}
]},
{"width":192,"height":124,"resolve":{"axis":{"x":"independent","y":"independent"}},"layer":[
{"data":{"values":[{}]},"mark":{"type":"rule","color":"#666","strokeWidth":0.7},"encoding":{"x":{"datum":0,"scale":{"domain":[-1.01,1.01],"nice":false,"zero":false},"axis":{"orient":"bottom","values":[-0.9,-0.8,-0.7,-0.6,-0.4,-0.3,-0.2,-0.1,0.1,0.2,0.3,0.4,0.6,0.7,0.8,0.9],"tickSize":-2,"labels":false,"title":null}}}},
{"data":{"name":"lc"},"transform":[{"fold":["u1","u2","u3","u4","u5","u6","u7","u8","m","d8","d7","d6","d5","d4","d3","d2","d1"],"as":["k","v"]}],"mark":{"type":"line","color":"#F7941D","strokeWidth":1.3,"interpolate":"monotone"},"encoding":{
"x":{"field":"x","type":"quantitative","scale":{"domain":[-1.01,1.01],"nice":false,"zero":false},"axis":{"orient":"bottom","values":[-1,-0.5,0,0.5,1],"tickSize":-4,"labelPadding":8.5,"labelExpr":"datum.value < 0 ? '- ' + format(-datum.value, '.1f') : format(datum.value, '.1f')","labelFlush":false,"labelOverlap":false,"title":"α [γ̄]","titleFont":"Liberation Serif","titleFontStyle":"italic","titleFontSize":14,"titleFontWeight":"normal","titleColor":"#555","titleY":24,"titleBaseline":"middle"}},
"y":{"field":"v","type":"quantitative","scale":{"domain":[-0.05,2.033],"nice":false,"zero":false},"axis":{"orient":"left","values":[0,0.5,1,1.5,2],"tickSize":-4,"labelPadding":6.5,"labelExpr":"format(datum.value, '.1f')","labelFlush":false,"labelOverlap":false,"title":null}},
"detail":{"field":"k"}}},
{"data":{"name":"pc"},"transform":[{"filter":"datum.e > 0"}],"mark":{"type":"circle","color":"#2CE2F0","opacity":1},"encoding":{
"x":{"field":"x","type":"quantitative","scale":{"domain":[-1.01,1.01],"nice":false,"zero":false},"axis":{"orient":"top","values":[-1,-0.9,-0.8,-0.7,-0.6,-0.5,-0.4,-0.3,-0.2,-0.1,0,0.1,0.2,0.3,0.4,0.5,0.6,0.7,0.8,0.9,1],"tickSize":-3,"labels":false,"title":null}},
"y":{"field":"y","type":"quantitative","scale":{"domain":[-0.05,2.033],"nice":false,"zero":false},"axis":{"orient":"right","values":[0,0.1,0.2,0.3,0.4,0.5,0.6,0.7,0.8,0.9,1,1.1,1.2,1.3,1.4,1.5,1.6,1.7,1.8,1.9,2],"tickSize":-3,"labels":false,"title":null}},
"size":{"field":"e","type":"quantitative","scale":{"type":"pow","exponent":2,"domain":[0,0.2],"range":[0,452]},"legend":null}}},
{"data":{"name":"pc"},"mark":{"type":"circle","color":"#000","opacity":1,"size":16},"encoding":{
"x":{"field":"x","type":"quantitative","scale":{"domain":[-1.01,1.01],"nice":false,"zero":false},"axis":null},
"y":{"field":"y","type":"quantitative","scale":{"domain":[-0.05,2.033],"nice":false,"zero":false},"axis":{"orient":"left","values":[0.1,0.2,0.3,0.4,0.6,0.7,0.8,0.9,1.1,1.2,1.3,1.4,1.6,1.7,1.8,1.9],"tickSize":-2,"labels":false,"title":null}}}}
]}
],"spacing":52,"bounds":"flush"}
]
}
